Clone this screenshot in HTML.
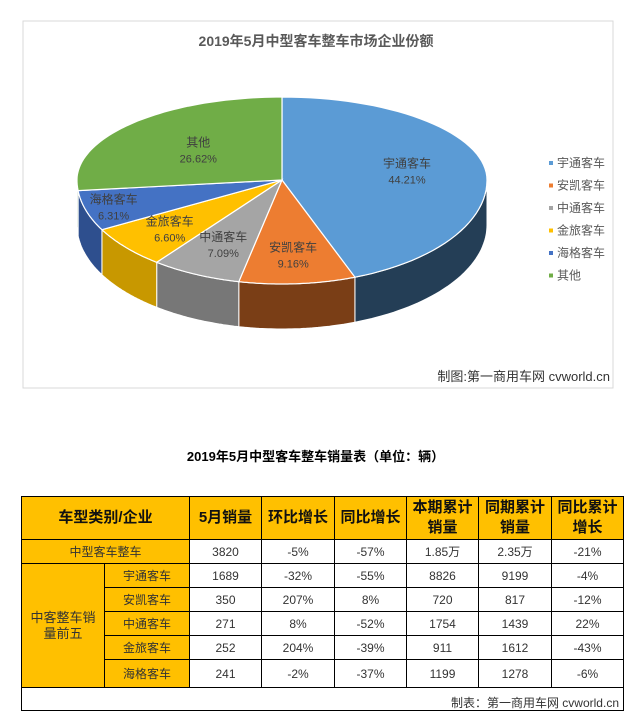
<!DOCTYPE html>
<html><head><meta charset="utf-8">
<style>
body{margin:0;width:631px;height:716px;background:#fff;position:relative;overflow:hidden;font-family:"Liberation Sans","Noto Sans CJK SC",sans-serif;}
#chart{position:absolute;left:0;top:0;}
.tt{position:absolute;left:0;width:631px;top:446px;text-align:center;font-weight:bold;font-size:13px;color:#000;}
table{position:absolute;left:21px;top:496px;border-collapse:collapse;table-layout:fixed;font-size:12px;color:#333;}
td{border:1px solid #000;text-align:center;padding:0;height:23px;line-height:14px;}
td.y{background:#FFC000;}
th{border:1px solid #000;background:#FFC000;font-weight:bold;font-size:15px;color:#111;padding:0;line-height:20px;height:42px;}
</style></head><body>
<svg id="chart" width="631" height="400">
<rect x="23" y="21" width="590" height="367" fill="#fff" stroke="#d9d9d9"/>
<text x="316" y="46" text-anchor="middle" font-size="14" font-weight="bold" fill="#595959">2019年5月中型客车整车市场企业份额</text>
<g id="sides"></g><g id="tops"></g><g id="labels"></g><g id="legend"></g>
<text x="610" y="381" text-anchor="end" font-size="13" fill="#333">制图:第一商用车网 cvworld.cn</text>
</svg>
<div class="tt">2019年5月中型客车整车销量表（单位：辆）</div>
<table>
<colgroup><col style="width:83px"><col style="width:85px"><col style="width:72px"><col style="width:73px"><col style="width:72px"><col style="width:72px"><col style="width:73px"><col style="width:72px"></colgroup>
<tr style="height:43px"><th colspan="2">车型类别/企业</th><th>5月销量</th><th>环比增长</th><th>同比增长</th><th>本期累计<br>销量</th><th>同期累计<br>销量</th><th>同比累计<br>增长</th></tr>
<tr><td colspan="2" class="y">中型客车整车</td><td>3820</td><td>-5%</td><td>-57%</td><td>1.85万</td><td>2.35万</td><td>-21%</td></tr>
<tr><td rowspan="5" class="y" style="font-size:13px;line-height:16px">中客整车销<br>量前五</td><td class="y">宇通客车</td><td>1689</td><td>-32%</td><td>-55%</td><td>8826</td><td>9199</td><td>-4%</td></tr>
<tr><td class="y">安凯客车</td><td>350</td><td>207%</td><td>8%</td><td>720</td><td>817</td><td>-12%</td></tr>
<tr><td class="y">中通客车</td><td>271</td><td>8%</td><td>-52%</td><td>1754</td><td>1439</td><td>22%</td></tr>
<tr><td class="y">金旅客车</td><td>252</td><td>204%</td><td>-39%</td><td>911</td><td>1612</td><td>-43%</td></tr>
<tr><td class="y" style="height:27px">海格客车</td><td>241</td><td>-2%</td><td>-37%</td><td>1199</td><td>1278</td><td>-6%</td></tr>
<tr><td colspan="8" style="height:22px;text-align:right;vertical-align:bottom;font-size:12px;padding-right:4px">制表：第一商用车网  cvworld.cn</td></tr>
</table>
<script>
const names=["宇通客车","安凯客车","中通客车","金旅客车","海格客车","其他"];
const shares=[44.21,9.16,7.09,6.60,6.31,26.62];
const colors=["#5B9BD5","#ED7D31","#A5A5A5","#FFC000","#4472C4","#70AD47"];
const sideColors=["#243E56","#7A3E16","#777777","#C89800","#2E4F8E","#4A7A2E"];
const cx=282,cy=180,rx=205,ryTop=83,ryBot=104,depth=45;
const NS="http://www.w3.org/2000/svg";
function pt(a,dy){const s=Math.sin(a);return [cx+rx*Math.cos(a),cy+(s<0?ryTop:ryBot)*s+(dy||0)];}
function mk(tag,attrs,parent){const e=document.createElementNS(NS,tag);for(const k in attrs)e.setAttribute(k,attrs[k]);parent.appendChild(e);return e;}
const total=shares.reduce((a,b)=>a+b,0);
let ang=-Math.PI/2;
const sides=document.getElementById('sides'),tops=document.getElementById('tops'),labels=document.getElementById('labels'),legend=document.getElementById('legend');
const labF=[0.62,0.72,0.68,0.72,0.86,0.55];
shares.forEach((v,i)=>{
  const a0=ang,a1=ang+v/total*2*Math.PI;ang=a1;
  for(const base of [0,2*Math.PI]){
    const s=Math.max(a0,base),e=Math.min(a1,base+Math.PI);
    if(e>s){
      let d="";const n=40;
      for(let k=0;k<=n;k++){const p=pt(s+(e-s)*k/n);d+=(k?"L":"M")+p[0].toFixed(1)+","+p[1].toFixed(1);}
      for(let k=n;k>=0;k--){const p=pt(s+(e-s)*k/n,depth);d+="L"+p[0].toFixed(1)+","+p[1].toFixed(1);}
      const el=mk('path',{d:d+"Z",fill:sideColors[i],stroke:"#fff","stroke-width":1},sides);
      
      
    }
  }
  let d="M"+cx+","+cy;const n=60;
  for(let k=0;k<=n;k++){const p=pt(a0+(a1-a0)*k/n);d+="L"+p[0].toFixed(1)+","+p[1].toFixed(1);}
  const sl=mk('path',{d:d+"Z",fill:colors[i],stroke:"#fff","stroke-width":1.2},tops);
  
  
  const m=(a0+a1)/2,f=labF[i];
  const p=pt(m);const lx=cx+(p[0]-cx)*f,ly=cy+(p[1]-cy)*f;
  const t1=mk('text',{x:lx,y:ly-3,'text-anchor':'middle','font-size':12,fill:'#404040'},labels);t1.textContent=names[i];
  
  
  const t2=mk('text',{x:lx,y:ly+13,'text-anchor':'middle','font-size':11,fill:'#404040'},labels);t2.textContent=v.toFixed(2)+"%";
  
  
  const ly2=166+i*22.5;
  const r=mk('rect',{x:549,y:ly2-5,width:4,height:4,fill:colors[i]},legend);
  
  
  const lt=mk('text',{x:557,y:ly2+1,'font-size':12,fill:'#595959'},legend);lt.textContent=names[i];
  
  
});
</script>
</body></html>
